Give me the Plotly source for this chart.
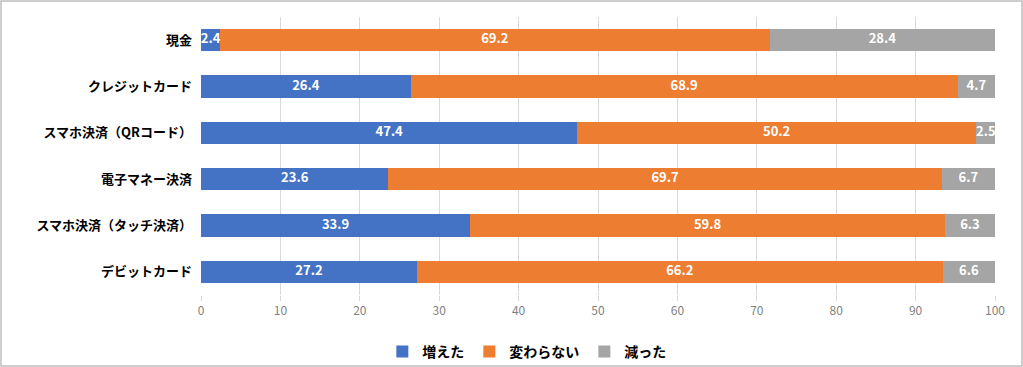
import plotly.graph_objects as go

categories = ["現金", "クレジットカード", "スマホ決済（QRコード）", "電子マネー決済", "スマホ決済（タッチ決済）", "デビットカード"]
series_names = ["増えた", "変わらない", "減った"]
increased = [2.4, 26.4, 47.4, 23.6, 33.9, 27.2]
unchanged = [69.2, 68.9, 50.2, 69.7, 59.8, 66.2]
decreased = [28.4, 4.7, 2.5, 6.7, 6.3, 6.6]
colors = ["#4472C4", "#ED7D31", "#A5A5A5"]
x_ticks = [0, 10, 20, 30, 40, 50, 60, 70, 80, 90, 100]

FONT = "Noto Sans CJK JP"
W, H = 1023, 367
L, R, T, B = 201, 28, 17, 72

fig = go.Figure()
series = [increased, unchanged, decreased]
base = [0.0] * len(categories)
for name, vals, c in zip(series_names, series, colors):
    fig.add_trace(go.Bar(
        y=categories, x=vals, name=name, orientation="h",
        marker=dict(color=c, line=dict(width=0)),
        textposition="none", cliponaxis=False,
    ))
    mids = [b + v / 2 for b, v in zip(base, vals)]
    fig.add_trace(go.Scatter(
        y=categories, x=mids, mode="text", text=[f"{v:.1f}" for v in vals],
        textposition="middle center", showlegend=False, hoverinfo="skip",
        textfont=dict(color="white", size=13, family=FONT, weight="bold"),
        cliponaxis=False,
    ))
    base = [b + v for b, v in zip(base, vals)]

pw = W - L - R
ph = H - T - B
fig.update_layout(
    width=W, height=H, barmode="stack", bargap=0.52,
    margin=dict(l=L, r=R, t=T, b=B, autoexpand=False),
    plot_bgcolor="white", paper_bgcolor="white",
    font=dict(family=FONT),
    xaxis=dict(range=[0, 100], tickvals=x_ticks, showgrid=True, gridcolor="#D9D9D9",
               gridwidth=1, zeroline=False, ticks="outside", ticklen=5, tickcolor="#D9D9D9",
               tickfont=dict(size=12, color="#7F7F7F", family=FONT), showline=False),
    yaxis=dict(autorange="reversed", showgrid=False, zeroline=False, ticks="",
               tickfont=dict(size=13, color="#000000", family=FONT, weight="bold"),
               ticklabelstandoff=8),
    legend=dict(orientation="h", xref="container", x=0.515, xanchor="center",
                y=-(352 - (H - B)) / ph, yanchor="middle", bgcolor="rgba(0,0,0,0)",
                font=dict(size=14, color="#000000", family=FONT, weight="bold"),
                itemwidth=30, traceorder="normal"),
    shapes=[dict(type="rect", xref="paper", yref="paper",
                 x0=-(L - 1) / pw, x1=1 + (R - 1) / pw,
                 y0=-(B - 1) / ph, y1=1 + (T - 1) / ph,
                 line=dict(color="#BFBFBF", width=1.5), layer="below")],
)

fig.write_html("out.html", config={"displayModeBar": False},
               post_script="document.body.style.margin='0';document.body.style.overflow='hidden';")
